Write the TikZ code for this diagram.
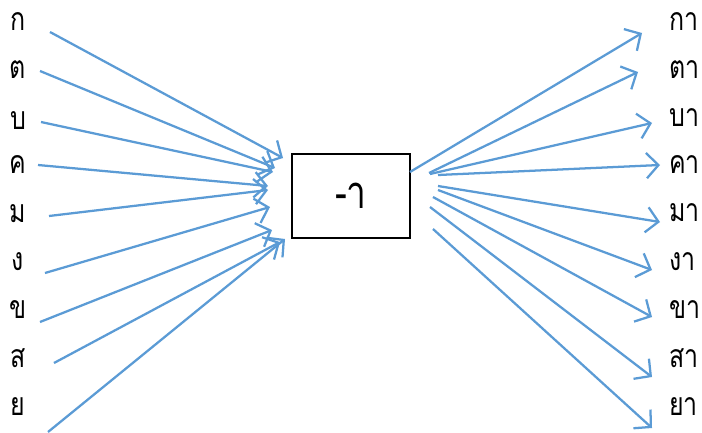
\documentclass[tikz,border=0pt]{standalone}
\usepackage{fontspec}
\newfontfamily\thaifont[Script=Thai,FakeStretch=0.78]{Loma}
\usetikzlibrary{arrows.meta}
\definecolor{arrowblue}{HTML}{5B9BD5}
\tikzset{
  lbl/.style={font=\thaifont\fontsize{24}{24}\selectfont, inner sep=0pt},
  rlbl/.style={lbl, anchor=west},
  arr/.style={draw=arrowblue, line width=1.7pt, -{Straight Barb[length=9pt,width=19pt,line width=1.7pt]}},
  centerbox/.style={draw=black, line width=0.8pt, minimum width=88.5pt, minimum height=63pt, inner sep=0pt, font=\thaifont\fontsize{34}{34}\selectfont}
}
\begin{document}
\begin{tikzpicture}[x=0.75pt,y=-0.75pt]
\useasboundingbox (0,0) rectangle (702,432);
% left labels
\node[lbl] (l1) at (18,22) {ก};
\node[lbl] (l2) at (18,70) {ต};
\node[lbl] (l3) at (18,121) {บ};
\node[lbl] (l4) at (18,165) {ค};
\node[lbl] (l5) at (18,214) {ม};
\node[lbl] (l6) at (18,262) {ง};
\node[lbl] (l7) at (18,310) {ข};
\node[lbl] (l8) at (18,358) {ส};
\node[lbl] (l9) at (18,407) {ย};
% box
\node[centerbox] (box) at (351,196) {-า};
% right labels
\node[rlbl] (r1) at (669,22) {กา};
\node[rlbl] (r2) at (669,70) {ตา};
\node[rlbl] (r3) at (669,118) {บา};
\node[rlbl] (r4) at (669,165) {คา};
\node[rlbl] (r5) at (669,213) {มา};
\node[rlbl] (r6) at (669,262) {งา};
\node[rlbl] (r7) at (669,310) {ขา};
\node[rlbl] (r8) at (669,358) {สา};
\node[rlbl] (r9) at (669,407) {ยา};
% left arrow coordinates
\coordinate (ls1) at (50,32);  \coordinate (le1) at (283,158);
\coordinate (ls2) at (40,71);  \coordinate (le2) at (275,168);
\coordinate (ls3) at (41,122); \coordinate (le3) at (273,172);
\coordinate (ls4) at (38,165); \coordinate (le4) at (268,186);
\coordinate (ls5) at (49,216); \coordinate (le5) at (268,190);
\coordinate (ls6) at (45,273); \coordinate (le6) at (270,207);
\coordinate (ls7) at (40,322); \coordinate (le7) at (272,230);
\coordinate (ls8) at (54,363); \coordinate (le8) at (280,242);
\coordinate (ls9) at (48,432); \coordinate (le9) at (285,239);
\foreach \i in {1,...,9} { \draw[arr] (ls\i) -- (le\i); }
% right arrow coordinates
\coordinate (rs1) at (410,172); \coordinate (re1) at (642,33);
\coordinate (rs2) at (429,173); \coordinate (re2) at (638,72);
\coordinate (rs3) at (430,174); \coordinate (re3) at (652,123);
\coordinate (rs4) at (438,175); \coordinate (re4) at (660,165);
\coordinate (rs5) at (438,186); \coordinate (re5) at (660,222);
\coordinate (rs6) at (438,190); \coordinate (re6) at (652,270);
\coordinate (rs7) at (433,197); \coordinate (re7) at (652,317);
\coordinate (rs8) at (430,207); \coordinate (re8) at (652,377);
\coordinate (rs9) at (433,229); \coordinate (re9) at (652,428);
\foreach \i in {1,...,9} { \draw[arr] (rs\i) -- (re\i); }
\end{tikzpicture}
\end{document}
